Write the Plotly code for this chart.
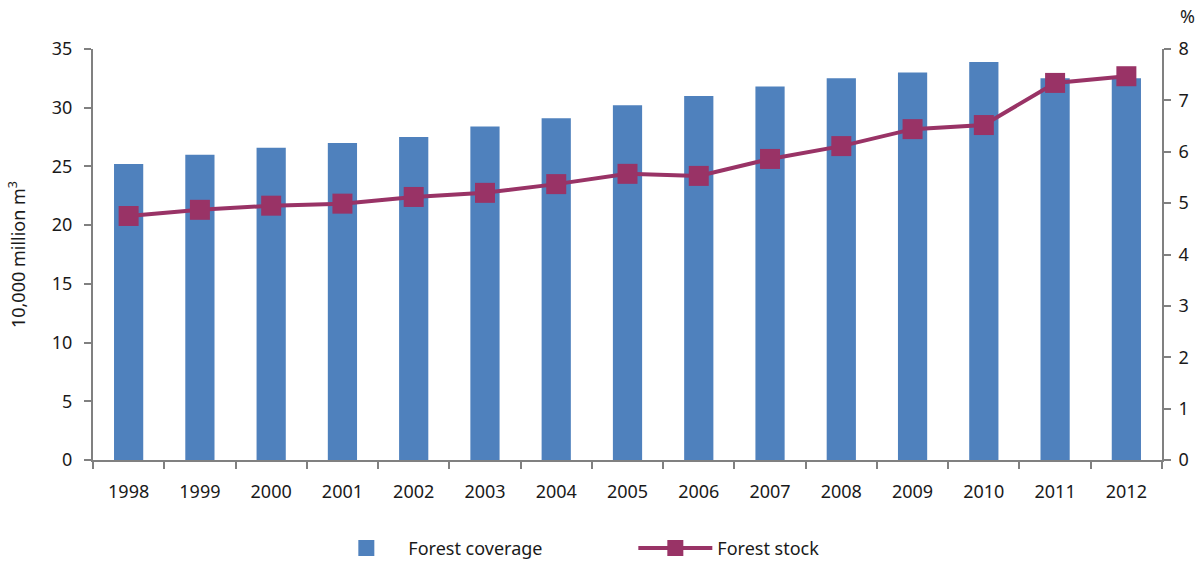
import plotly.graph_objects as go

years = ["1998", "1999", "2000", "2001", "2002", "2003", "2004", "2005",
         "2006", "2007", "2008", "2009", "2010", "2011", "2012"]
coverage = [25.2, 26.0, 26.6, 27.0, 27.5, 28.4, 29.1, 30.2,
            31.0, 31.8, 32.5, 33.0, 33.9, 32.5, 32.5]
stock = [4.75, 4.87, 4.95, 4.99, 5.12, 5.20, 5.37, 5.57,
         5.53, 5.86, 6.11, 6.44, 6.52, 7.34, 7.47]

BLUE = "#4F81BD"
PLUM = "#993366"
AXIS = "#808080"
FONT = "Noto Sans"

fig = go.Figure()

fig.add_trace(go.Bar(
    x=years, y=coverage, name="Forest coverage",
    marker=dict(color=BLUE, line=dict(width=0)),
    showlegend=False,
))
# legend entry for the bars, drawn as a square swatch
fig.add_trace(go.Scatter(
    x=[None], y=[None], mode="markers", name="Forest coverage",
    marker=dict(symbol="square", size=20, color=BLUE),
))
fig.add_trace(go.Scatter(
    x=years, y=stock, name="Forest stock", yaxis="y2",
    mode="lines+markers",
    line=dict(color=PLUM, width=4),
    marker=dict(symbol="square", size=20, color=PLUM),
))

fig.update_layout(
    width=1204, height=563,
    margin=dict(l=93, r=42, t=49, b=103, autoexpand=False),
    plot_bgcolor="white", paper_bgcolor="white",
    font=dict(family=FONT, size=18, color="#1a1a1a"),
    bargap=0.59,
    xaxis=dict(
        type="category", range=[-0.5, 14.5], autorange=False,
        showline=True, linecolor=AXIS, linewidth=2,
        ticks="outside", tickson="boundaries", ticklen=7, tickcolor=AXIS,
        tickwidth=2, showgrid=False, zeroline=False,
        tickfont=dict(size=18), ticklabelstandoff=14,
    ),
    yaxis=dict(
        range=[0, 35], dtick=5, showline=True, linecolor=AXIS, linewidth=2,
        ticks="outside", ticklen=7, tickcolor=AXIS, tickwidth=2,
        showgrid=False, zeroline=False, tickfont=dict(size=18),
        ticklabelstandoff=8,
        title=dict(text="10,000 million m<sup>3</sup>", font=dict(size=18),
                   standoff=22),
    ),
    yaxis2=dict(
        range=[0, 8], dtick=1, overlaying="y", side="right",
        showline=True, linecolor=AXIS, linewidth=2,
        ticks="outside", ticklen=7, tickcolor=AXIS, tickwidth=2,
        showgrid=False, zeroline=False, tickfont=dict(size=18),
        ticklabelstandoff=4,
    ),
    legend=dict(
        orientation="h", x=0.2164, xanchor="left", y=-0.215, yanchor="middle",
        font=dict(size=18), entrywidth=220, itemwidth=74,
        bgcolor="rgba(0,0,0,0)",
    ),
    annotations=[dict(
        text="%", xref="paper", yref="paper", x=1.015, y=1.08,
        xanchor="left", yanchor="middle", showarrow=False,
        font=dict(size=18),
    )],
)

fig.write_html("out.html")
